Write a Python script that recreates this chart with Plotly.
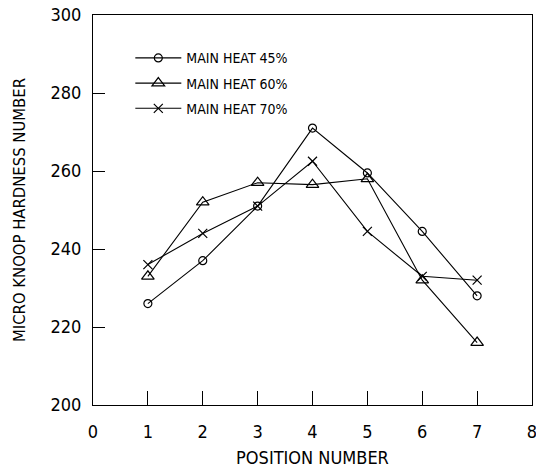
import plotly.graph_objects as go

positions = [1, 2, 3, 4, 5, 6, 7]
heat45 = [226, 237, 251, 271, 259.5, 244.5, 228]
heat60 = [233, 252, 257, 256.5, 258, 232, 216]
heat70 = [236, 244, 251, 262.5, 244.5, 233, 232]
x_ticks = [0, 1, 2, 3, 4, 5, 6, 7, 8]
y_ticks = [200, 220, 240, 260, 280, 300]

FONT = "DejaVu Sans Condensed, Liberation Sans Narrow, sans-serif"

fig = go.Figure()
series = [
    ("MAIN HEAT 45%", heat45, "circle-open", 8),
    ("MAIN HEAT 60%", heat60, "triangle-up-open", 11),
    ("MAIN HEAT 70%", heat70, "x-thin-open", 9),
]
for i, (name, vals, sym, sz) in enumerate(series):
    fig.add_trace(go.Scatter(x=positions, y=vals, mode="lines+markers", name=name,
                             legendgroup=f"g{i}",
                             line=dict(color="black", width=1.1),
                             marker=dict(symbol=sym, size=sz, color="black", line=dict(width=1.2))))

fig.update_layout(
    width=536, height=470,
    margin=dict(l=93, r=4, t=15, b=65),
    paper_bgcolor="white", plot_bgcolor="white",
    font=dict(family=FONT, color="black", size=16),
    showlegend=True,
    legend=dict(x=0.085, y=0.93, xanchor="left", yanchor="top", bgcolor="rgba(0,0,0,0)",
                font=dict(size=14, family=FONT), itemwidth=46, tracegroupgap=4),
    xaxis=dict(range=[0, 8], tickvals=x_ticks, ticks="inside", ticklen=14,
               tickcolor="black", showgrid=False, zeroline=False, showline=True,
               linecolor="black", linewidth=1, mirror=True, automargin=False,
               ticklabelstandoff=10, ticklabeloverflow="allow",
               title=dict(text="POSITION NUMBER", font=dict(size=18), standoff=10),
               tickfont=dict(size=18)),
    yaxis=dict(range=[200, 300], tickvals=y_ticks, ticks="inside", ticklen=12,
               tickcolor="black", showgrid=False, zeroline=False, showline=True,
               linecolor="black", linewidth=1, mirror=True, automargin=False,
               ticklabelstandoff=7, ticklabeloverflow="allow",
               title=dict(text="MICRO KNOOP HARDNESS NUMBER", font=dict(size=16.5), standoff=20),
               tickfont=dict(size=18)),
)

fig.write_html(
    "out.html",
    config={"displayModeBar": False},
    post_script="document.body.style.margin='0';document.body.style.overflow='hidden';",
)
